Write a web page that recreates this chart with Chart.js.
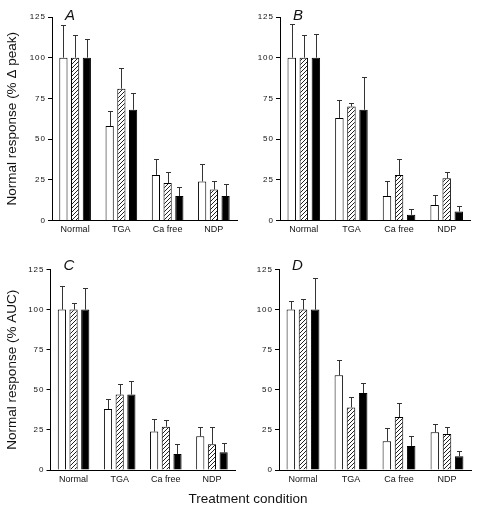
<!DOCTYPE html>
<html>
<head>
<meta charset="utf-8">
<script src="https://cdn.jsdelivr.net/npm/chart.js@4.4.1/dist/chart.umd.min.js"></script>
<style>
  body { margin: 0; background: #fff; }
  #page { position: relative; width: 477px; height: 515px; overflow: hidden; }
  canvas { position: absolute; }
  #xTitle { position: absolute; left: 0; width: 496px; top: 491px; text-align: center;
            font: 13.5px "Liberation Sans", Arial, sans-serif; color: #111; }
</style>
</head>
<body>
<div id="page">
  <canvas id="chartA" width="240" height="240" style="left:0;top:0"></canvas>
  <canvas id="chartB" width="240" height="240" style="left:237px;top:0"></canvas>
  <canvas id="chartC" width="240" height="275" style="left:0;top:240px"></canvas>
  <canvas id="chartD" width="240" height="275" style="left:237px;top:240px"></canvas>
  <div id="xTitle">Treatment condition</div>
</div>
<script>
const categories = ['Normal', 'TGA', 'Ca free', 'NDP'];
const yTicks = [0, 25, 50, 75, 100, 125];

// A - peak
const openA = [100, 58, 28, 24];
const openErrA = [20, 9.5, 9.5, 11];
const hatchA = [100, 81, 23, 19];
const hatchErrA = [14, 12.5, 7, 5];
const fillA = [100, 68, 15, 15];
const fillErrA = [11.5, 10.5, 5.5, 7.5];

// B - peak
const openB = [100, 63, 15, 9.5];
const openErrB = [21, 11, 9.5, 6];
const hatchB = [100, 70, 28, 26];
const hatchErrB = [14, 2, 10, 4];
const fillB = [100, 68, 3.5, 5.5];
const fillErrB = [14.5, 20, 3.5, 3.5];

// C - AUC
const openC = [100, 38, 24, 21];
const openErrC = [15, 6, 8, 5.5];
const hatchC = [100, 47, 27, 16];
const hatchErrC = [4, 6.5, 4, 10.5];
const fillC = [100, 47, 10, 11];
const fillErrC = [13.5, 8.5, 6, 6];

// D - AUC
const openD = [100, 59, 18, 23.5];
const openErrD = [5.5, 9.5, 8, 5];
const hatchD = [100, 39, 33, 22.5];
const hatchErrD = [6.5, 6.5, 8.5, 4.5];
const fillD = [100, 48, 15, 8.5];
const fillErrD = [20, 6, 6, 3.5];

Chart.defaults.font.family = '"Liberation Sans", Arial, sans-serif';
Chart.defaults.color = '#111';

// y tick labels in the scan are letter-spaced
class SpacedLinearScale extends Chart.LinearScale {
    drawLabels(chartArea) {
        this.ctx.save();
        this.ctx.letterSpacing = '1px';
        super.drawLabels(chartArea);
        this.ctx.restore();
    }
}
SpacedLinearScale.id = 'spacedLinear';
SpacedLinearScale.defaults = Chart.LinearScale.defaults;
Chart.register(SpacedLinearScale);

function hatchPattern() {
    const c = document.createElement('canvas');
    c.width = 4;
    c.height = 4;
    const g = c.getContext('2d');
    g.fillStyle = '#fff';
    g.fillRect(0, 0, 4, 4);
    g.strokeStyle = '#222';
    g.lineWidth = 1;
    g.beginPath();
    g.moveTo(0, 4); g.lineTo(4, 0);
    g.moveTo(-1, 1); g.lineTo(1, -1);
    g.moveTo(3, 5); g.lineTo(5, 3);
    g.stroke();
    return g.createPattern(c, 'repeat');
}

const errorBars = {
    id: 'errorBars',
    afterDatasetsDraw(chart) {
        const ctx = chart.ctx;
        const y = chart.scales.y;
        ctx.save();
        ctx.strokeStyle = '#333';
        ctx.lineWidth = 1;
        chart.data.datasets.forEach(function (ds, i) {
            const meta = chart.getDatasetMeta(i);
            meta.data.forEach(function (bar, j) {
                const top = Math.round(y.getPixelForValue(ds.data[j] + ds.errors[j])) + 0.5;
                const x = Math.round(bar.x) + 0.5;
                ctx.beginPath();
                ctx.moveTo(x, bar.y);
                ctx.lineTo(x, top);
                ctx.moveTo(x - 2.5, top);
                ctx.lineTo(x + 2.5, top);
                ctx.stroke();
            });
        });
        ctx.restore();
    }
};

const panelLetter = {
    id: 'panelLetter',
    afterDraw(chart, args, opts) {
        const ctx = chart.ctx;
        const area = chart.chartArea;
        ctx.save();
        ctx.font = 'italic 15px "Liberation Sans", Arial, sans-serif';
        ctx.fillStyle = '#111';
        ctx.textBaseline = 'alphabetic';
        ctx.fillText(opts.text, area.left + 13, area.top + opts.dy);
        ctx.restore();
    }
};

function makePanel(id, letter, dy, yTitle, box, open, openErr, hatch, hatchErr, fill, fillErr) {
    const ctx = document.getElementById(id).getContext('2d');
    return new Chart(ctx, {
        type: 'bar',
        data: {
            labels: categories,
            datasets: [
                { data: open, errors: openErr, backgroundColor: '#fff' },
                { data: hatch, errors: hatchErr, backgroundColor: hatchPattern() },
                { data: fill, errors: fillErr, backgroundColor: '#000' }
            ]
        },
        options: {
            responsive: false,
            animation: false,
            devicePixelRatio: 1,
            layout: { padding: box.padding },
            datasets: {
                bar: {
                    borderColor: '#000',
                    borderWidth: 1,
                    categoryPercentage: 0.76,
                    barPercentage: 0.7
                }
            },
            plugins: {
                legend: { display: false },
                tooltip: { enabled: false },
                panelLetter: { text: letter, dy: dy }
            },
            scales: {
                x: {
                    grid: { display: false, drawTicks: false },
                    border: { display: true, color: '#000', width: 1 },
                    ticks: { font: { size: 9 }, padding: 4, maxRotation: 0, autoSkip: false },
                    afterFit: function (s) { s.height = box.xHeight; }
                },
                y: {
                    type: 'spacedLinear',
                    min: 0,
                    max: 125,
                    afterBuildTicks: function (s) { s.ticks = yTicks.map(v => ({ value: v })); },
                    grid: { drawOnChartArea: false, drawTicks: true, tickLength: 4, color: '#000' },
                    border: { display: true, color: '#000', width: 1 },
                    ticks: { font: { size: 8 }, padding: 2 },
                    title: { display: !!yTitle, text: yTitle, font: { size: 13.5 }, color: '#111' },
                    afterFit: function (s) { s.width = box.yWidth; }
                }
            }
        },
        plugins: [errorBars, panelLetter]
    });
}

makePanel('chartA', 'A', 3, 'Normal response (% \u0394 peak)',
    { padding: { top: 17, right: 3, left: 0, bottom: 0 }, yWidth: 52, xHeight: 19.5 },
    openA, openErrA, hatchA, hatchErrA, fillA, fillErrA);
makePanel('chartB', 'B', 3, '',
    { padding: { top: 17, right: 6.5, left: 0, bottom: 0 }, yWidth: 43, xHeight: 19.5 },
    openB, openErrB, hatchB, hatchErrB, fillB, fillErrB);
makePanel('chartC', 'C', 0, 'Normal response (% AUC)',
    { padding: { top: 29.5, right: 5, left: 0, bottom: 0 }, yWidth: 50.5, xHeight: 45 },
    openC, openErrC, hatchC, hatchErrC, fillC, fillErrC);
makePanel('chartD', 'D', 0, '',
    { padding: { top: 29.5, right: 6, left: 0, bottom: 0 }, yWidth: 42, xHeight: 45 },
    openD, openErrD, hatchD, hatchErrD, fillD, fillErrD);
</script>
</body>
</html>
